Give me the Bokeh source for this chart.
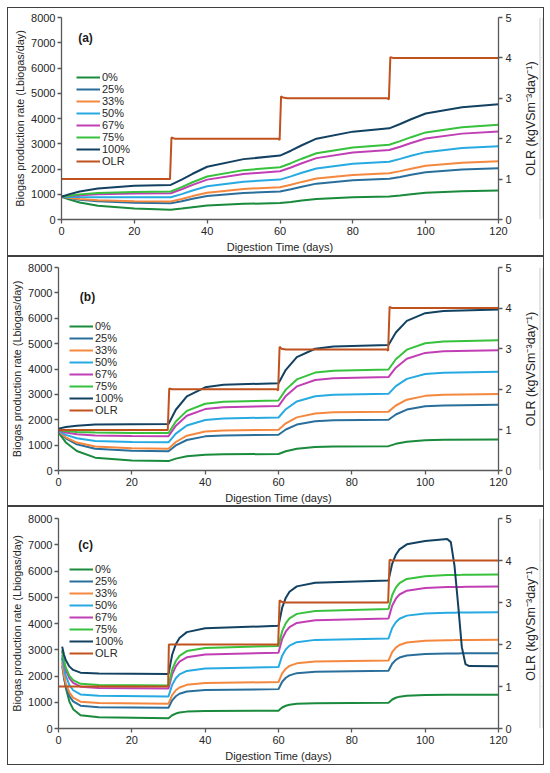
import math
from bokeh.plotting import figure
from bokeh.models import Range1d, LinearAxis, Legend, LegendItem, Label, FixedTicker, Title
from bokeh.layouts import column, row
from bokeh.embed import file_html
from bokeh.resources import INLINE

SERIES = ["0%", "25%", "33%", "50%", "67%", "75%", "100%"]
COLORS = ["#1a8a3c", "#2a6f9b", "#f5883f", "#27aae1", "#c13fb5", "#37c13c", "#134161"]
OLR_COLOR = "#c0521e"
Y_TICKS = [0, 1000, 2000, 3000, 4000, 5000, 6000, 7000, 8000]
X_TICKS = [0, 20, 40, 60, 80, 100, 120]
OLR_TICKS = [0, 1, 2, 3, 4, 5]
Y_LABEL = "Biogas production rate (Lbiogas/day)"
X_LABEL = "Digestion Time (days)"
R_LABEL = "OLR (kgVSm\u207b\u00b3day\u207b\u00b9)"

# ---------- panel (a) ----------
a_days = [0, 2, 5, 10, 20, 30, 33, 36, 40, 50, 60, 63, 66, 70, 80, 90, 93, 96, 100, 110, 120]
a_0 = [900, 798, 670, 543, 431, 390, 437, 489, 551, 619, 650, 697, 749, 811, 879, 910, 953, 1001, 1059, 1121, 1150]
a_25 = [900, 848, 783, 718, 661, 640, 725, 819, 931, 1054, 1110, 1200, 1300, 1420, 1550, 1610, 1686, 1770, 1870, 1980, 2030]
a_33 = [900, 862, 815, 767, 725, 710, 813, 927, 1063, 1212, 1280, 1379, 1489, 1621, 1764, 1830, 1916, 2012, 2128, 2252, 2310]
a_50 = [900, 896, 891, 886, 882, 880, 1006, 1146, 1314, 1496, 1580, 1708, 1850, 2020, 2205, 2290, 2400, 2522, 2668, 2827, 2900]
a_67 = [900, 928, 963, 998, 1029, 1040, 1197, 1371, 1579, 1806, 1910, 2061, 2229, 2431, 2649, 2750, 2883, 3031, 3209, 3401, 3490]
a_75 = [900, 942, 995, 1047, 1093, 1110, 1283, 1475, 1705, 1955, 2070, 2230, 2408, 2622, 2853, 2960, 3102, 3260, 3450, 3655, 3750]
a_100 = [900, 994, 1112, 1229, 1332, 1370, 1579, 1811, 2089, 2391, 2530, 2724, 2940, 3200, 3480, 3610, 3781, 3971, 4199, 4446, 4560]
a_olr_days = [0, 29.8, 30.2, 31, 59.5, 59.9, 60.3, 60.8, 62, 89.5, 89.9, 90.3, 91, 120]
a_olr = [1.0, 1.0, 2.03, 2.0, 2.0, 1.97, 3.05, 3.02, 3.0, 3.0, 2.97, 4.02, 4.0, 4.0]

# ---------- panel (b) ----------
b_days = [0, 2, 5, 10, 20, 30, 32, 35, 40, 45, 60, 62, 65, 70, 75, 90, 92, 95, 100, 105, 120]
b_0 = [1500, 1105, 766, 506, 393, 370, 468, 560, 622, 639, 650, 759, 861, 929, 948, 960, 1051, 1137, 1194, 1210, 1220]
b_25 = [1540, 1267, 1033, 854, 776, 760, 988, 1202, 1345, 1384, 1410, 1617, 1811, 1941, 1976, 2000, 2207, 2401, 2531, 2566, 2590]
b_33 = [1550, 1309, 1102, 943, 874, 860, 1123, 1370, 1535, 1580, 1610, 1859, 2093, 2249, 2292, 2320, 2562, 2789, 2941, 2982, 3010]
b_50 = [1560, 1403, 1268, 1164, 1119, 1110, 1453, 1776, 1992, 2051, 2090, 2416, 2722, 2927, 2983, 3020, 3325, 3612, 3803, 3855, 3890]
b_67 = [1580, 1500, 1431, 1378, 1355, 1350, 1767, 2159, 2421, 2492, 2540, 2939, 3315, 3566, 3634, 3680, 4051, 4401, 4634, 4698, 4740]
b_75 = [1600, 1558, 1522, 1494, 1482, 1480, 1928, 2350, 2632, 2709, 2760, 3187, 3590, 3858, 3931, 3980, 4383, 4762, 5015, 5084, 5130]
b_100 = [1650, 1713, 1767, 1808, 1826, 1830, 2394, 2925, 3279, 3376, 3440, 3969, 4467, 4799, 4890, 4950, 5437, 5895, 6201, 6284, 6340]
b_olr_days = [0, 29.8, 30.2, 31, 59.5, 59.9, 60.3, 60.8, 62, 89.5, 89.9, 90.3, 91, 120]
b_olr = [1.0, 1.0, 2.02, 2.0, 2.0, 1.97, 3.05, 3.0, 2.98, 2.98, 2.95, 4.03, 4.0, 4.0]

# ---------- panel (c) ----------
c_days = [1, 1.5, 2, 3, 4, 6, 11, 30, 30.5, 31, 32, 33, 35, 40, 60, 60.5, 61, 62, 63, 65, 70,
          90, 90.5, 91, 92, 93, 95, 100, 106, 107, 108, 109, 110, 111, 112, 120]
c_0 = [2700, 2007, 1545, 1014, 737, 506, 425, 390, 448, 506, 570, 608, 643, 664, 680, 740, 800, 866, 905, 941, 965,
       980, 1042, 1104, 1172, 1213, 1250, 1275, 1284, 1285, 1285, 1286, 1286, 1287, 1287, 1290]
c_25 = [2400, 1917, 1595, 1225, 1032, 871, 814, 790, 932, 1074, 1230, 1324, 1408, 1465, 1500, 1640, 1780, 1934, 2025, 2109, 2165,
        2200, 2334, 2468, 2615, 2703, 2783, 2837, 2857, 2858, 2859, 2861, 2862, 2863, 2864, 2870]
c_33 = [2500, 2034, 1723, 1365, 1178, 1023, 968, 945, 1110, 1275, 1457, 1564, 1663, 1729, 1770, 1934, 2098, 2278, 2385, 2483, 2549,
        2590, 2748, 2906, 3080, 3183, 3277, 3341, 3364, 3366, 3367, 3369, 3370, 3372, 3374, 3380]
c_50 = [2800, 2326, 2010, 1647, 1457, 1299, 1244, 1220, 1444, 1668, 1914, 2060, 2194, 2284, 2340, 2558, 2776, 3016, 3158, 3288, 3376,
        3430, 3630, 3830, 4050, 4180, 4300, 4380, 4410, 4412, 4414, 4416, 4418, 4420, 4422, 4430]
c_67 = [2950, 2521, 2235, 1906, 1735, 1592, 1541, 1520, 1794, 2068, 2369, 2548, 2712, 2822, 2890, 3150, 3410, 3696, 3865, 4021, 4125,
        4190, 4434, 4678, 4946, 5105, 5251, 5349, 5386, 5388, 5390, 5393, 5395, 5398, 5400, 5410]
c_75 = [3000, 2590, 2318, 2004, 1840, 1703, 1655, 1635, 1937, 2239, 2571, 2768, 2949, 3070, 3145, 3426, 3707, 4016, 4199, 4367, 4480,
        4550, 4814, 5078, 5368, 5540, 5698, 5804, 5844, 5846, 5849, 5852, 5854, 5857, 5859, 5870]
c_100 = [3120, 2807, 2598, 2357, 2232, 2127, 2091, 2075, 2442, 2809, 3213, 3451, 3671, 3818, 3910, 4256, 4602, 4983, 5208, 5415, 5554,
         5640, 5956, 6272, 6620, 6825, 7015, 7141, 7220, 7100, 6200, 4700, 3100, 2450, 2380, 2370]
c_olr_days = [0, 29.9, 30.1, 31, 59.5, 59.9, 60.3, 60.8, 62, 89.5, 89.9, 90.3, 91, 120]
c_olr = [1.0, 1.0, 2.0, 2.0, 2.0, 1.98, 3.05, 3.02, 3.0, 3.0, 3.0, 4.02, 4.0, 4.0]

FONT = "Liberation Sans"
AXIS_COLOR = "#595959"
TEXT_COLOR = "#262626"
BORDER = "1px solid #404040"
MAIN_W = 507
SIDE_W = 30


def style_axis(ax):
    ax.axis_label_text_font = FONT
    ax.axis_label_text_font_size = "11px"
    ax.axis_label_text_font_style = "normal"
    ax.axis_label_text_color = TEXT_COLOR
    ax.axis_label_standoff = 3
    ax.major_label_text_font = FONT
    ax.major_label_text_font_size = "11px"
    ax.major_label_text_color = TEXT_COLOR
    ax.major_label_standoff = 3
    ax.axis_line_color = AXIS_COLOR
    ax.axis_line_width = 1.3
    ax.major_tick_line_color = AXIS_COLOR
    ax.major_tick_line_width = 1.3
    ax.major_tick_in = 0
    ax.major_tick_out = 4
    ax.minor_tick_line_color = None


def side_title(height, mt, mb):
    f = figure(width=SIDE_W, height=height, x_range=Range1d(0, 1), y_range=Range1d(0, 1),
               x_axis_location=None, y_axis_location=None,
               output_backend="svg", toolbar_location=None,
               min_border_left=24, min_border_right=0, min_border_top=mt, min_border_bottom=mb)
    f.outline_line_color = None
    f.border_fill_color = "white"
    f.background_fill_color = "white"
    f.styles = {"border-top": BORDER, "border-bottom": BORDER, "border-right": BORDER}
    t = Title(text=R_LABEL, align="center", text_font=FONT, text_font_size="12.5px",
              text_font_style="normal", text_color=TEXT_COLOR, standoff=0, offset=0,
              vertical_align="middle")
    f.add_layout(t, "left")
    return f


def make_panel(height, days, series, olr_days, olr, tag, tag_x, tag_y, legend_xy, ml, mt, mb):
    mr = MAIN_W - 490
    p = figure(width=MAIN_W, height=height, x_range=Range1d(0, 120), y_range=Range1d(0, 8000),
               output_backend="svg", toolbar_location=None,
               min_border_left=ml, min_border_right=mr, min_border_top=mt, min_border_bottom=mb)
    p.extra_y_ranges = {"olr": Range1d(0, 5)}
    p.xgrid.grid_line_color = None
    p.ygrid.grid_line_color = None
    p.outline_line_color = None
    p.background_fill_color = "white"
    p.border_fill_color = "white"
    p.styles = {"border-top": BORDER, "border-bottom": BORDER, "border-left": BORDER}

    p.xaxis.ticker = FixedTicker(ticks=X_TICKS)
    p.yaxis.ticker = FixedTicker(ticks=Y_TICKS)
    style_axis(p.xaxis[0])
    p.xaxis[0].axis_label = X_LABEL
    style_axis(p.yaxis[0])
    p.yaxis[0].axis_label = Y_LABEL
    p.yaxis[0].axis_label_text_font_size = "10.8px"
    p.yaxis[0].axis_label_standoff = 2
    p.yaxis[0].major_label_standoff = 2

    right = LinearAxis(y_range_name="olr", ticker=FixedTicker(ticks=OLR_TICKS))
    style_axis(right)
    p.add_layout(right, "right")

    items = []
    for name, color, vals in zip(SERIES, COLORS, series):
        r = p.line(days, vals, line_color=color, line_width=2)
        items.append(LegendItem(label=name, renderers=[r]))
    ro = p.line(olr_days, olr, line_color=OLR_COLOR, line_width=2, y_range_name="olr")
    items.append(LegendItem(label="OLR", renderers=[ro]))

    legend = Legend(items=items, location=legend_xy, border_line_color=None,
                    background_fill_alpha=0, padding=0, margin=0, spacing=0,
                    glyph_width=24, glyph_height=12, label_height=12, label_standoff=2,
                    label_text_font=FONT, label_text_font_size="11px", label_text_color=TEXT_COLOR)
    p.add_layout(legend)

    p.add_layout(Label(x=tag_x, y=tag_y, text=tag, text_font=FONT, text_font_size="12px",
                       text_font_style="bold", text_color="#1a1a1a",
                       text_align="center", text_baseline="middle"))

    side = side_title(height, mt, mb)
    return row(p, side, spacing=0)


pa = make_panel(249, a_days, [a_0, a_25, a_33, a_50, a_67, a_75, a_100], a_olr_days, a_olr,
                "(a)", 6.6, 7200, (15, 52), 53, 9, 38)
pb = make_panel(250, b_days, [b_0, b_25, b_33, b_50, b_67, b_75, b_100], b_olr_days, b_olr,
                "(b)", 7.9, 6820, (11, 54), 48, 10, 37)
pc = make_panel(259, c_days, [c_0, c_25, c_33, c_50, c_67, c_75, c_100], c_olr_days, c_olr,
                "(c)", 7.4, 6980, (11, 69), 49, 11, 38)

layout = column(pa, pb, pc, spacing=0, margin=(7, 0, 0, 7))
open("out.html", "w").write(file_html(layout, INLINE))
